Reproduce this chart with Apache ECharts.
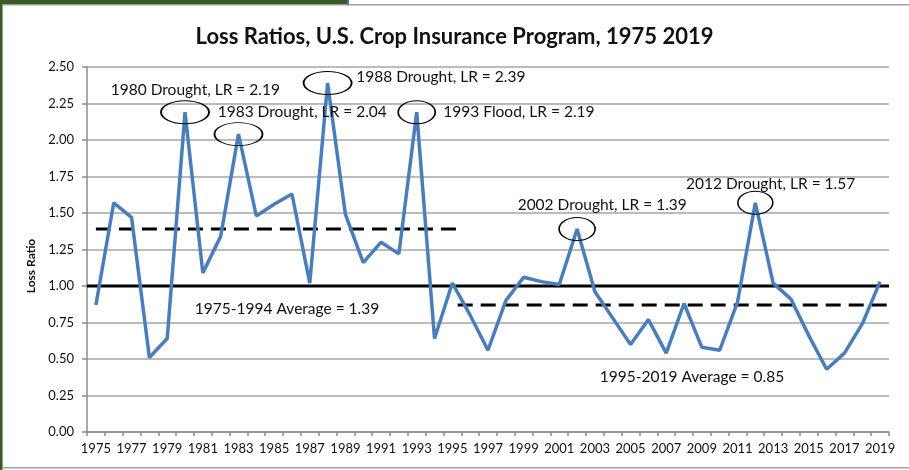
<!DOCTYPE html>
<html>
<head>
<meta charset="utf-8">
<script src="https://cdn.jsdelivr.net/npm/echarts@6/dist/echarts.min.js"></script>
<style>
html,body{margin:0;padding:0;background:#fff;}
#c{width:909px;height:470px;}
</style>
</head>
<body>
<div id="c"></div>
<script>
// ---- data ----
const years = [];
for (let y = 1975; y <= 2019; y++) years.push(String(y));
const lossRatio = [
  0.87, 1.57, 1.47, 0.51, 0.64, 2.19, 1.09, 1.34, 2.04, 1.48,
  1.56, 1.63, 1.02, 2.39, 1.49, 1.16, 1.30, 1.22, 2.19, 0.64,
  1.02, 0.80, 0.56, 0.90, 1.06, 1.03, 1.01, 1.39, 0.96, 0.78,
  0.60, 0.77, 0.54, 0.88, 0.58, 0.56, 0.89, 1.57, 1.02, 0.91,
  0.66, 0.43, 0.54, 0.74, 1.03
];
const yTicks = [0, 0.25, 0.5, 0.75, 1.0, 1.25, 1.5, 1.75, 2.0, 2.25, 2.5];
const breakEven = 1.00;
const avg1975to1994 = 1.39;
const avg1995to2019 = 0.87;
const avgEarlySpan = [1975, 1995.57];
const avgLateSpan = [1995.3, 2019.5];
const fullSpan = [1974.5, 2019.5];
// peak annotations: year, value, ellipse width
const peaks = [
  ['1980', 2.19, 48], ['1983', 2.04, 48], ['1988', 2.39, 48],
  ['1993', 2.19, 37], ['2002', 1.39, 36], ['2012', 1.57, 35]
];
// text annotations: anchor year, anchor value, text
const notes = [
  ['1976', 2.34, '1980 Drought, LR = 2.19', -3],
  ['1982', 2.19, '1983 Drought, LR = 2.04', -3],
  ['1990', 2.43, '1988 Drought, LR = 2.39', -7],
  ['1995', 2.19, '1993 Flood, LR = 2.19', -9],
  ['1999', 1.555, '2002 Drought, LR = 1.39', -6],
  ['2008', 1.70, '2012 Drought, LR = 1.57', 2],
  ['1981', 0.84, '1975-1994 Average = 1.39', -8],
  ['2004', 0.377, '1995-2019 Average = 0.85', -13]
];

const FONT = 'Lato';
const ellipsePath = 'path://M0,10 A10,10 0 1,1 20,10 A10,10 0 1,1 0,10 Z';

const markData = [];
peaks.forEach(p => markData.push({
  coord: [p[0], p[1]], symbol: ellipsePath, symbolSize: [p[2], 23],
  itemStyle: {color: 'rgba(0,0,0,0)', borderColor: '#000', borderWidth: 1.3},
  label: {show: false}
}));
notes.forEach(n => markData.push({
  coord: [n[0], n[1]], symbol: 'circle', symbolSize: 0,
  itemStyle: {color: 'rgba(0,0,0,0)'},
  label: {show: true, formatter: n[2], position: 'right', distance: 0, offset: [n[3], 0],
    color: '#111', fontSize: 15.5, fontFamily: FONT}
}));

const chart = echarts.init(document.getElementById('c'), null, {renderer: 'canvas'});
chart.setOption({
  animation: false,
  backgroundColor: '#fff',
  title: {
    text: 'Loss Ratios, U.S. Crop Insurance Program, 1975 2019',
    left: 'center', top: 21,
    textStyle: {fontFamily: FONT, fontWeight: 'bold', fontSize: 22, color: '#111'}
  },
  grid: {left: 87, right: 20, top: 67, bottom: 38},
  xAxis: [{
    type: 'category', data: years, boundaryGap: true,
    axisLine: {lineStyle: {color: '#8c8c8c', width: 1.5}},
    axisTick: {show: true, interval: 0, length: 4, lineStyle: {color: '#8c8c8c', width: 1.5}},
    axisLabel: {interval: 1, margin: 10, color: '#111', fontSize: 13, fontFamily: FONT},
    splitLine: {show: false}
  }, {
    type: 'value', min: fullSpan[0], max: fullSpan[1], show: false
  }],
  yAxis: {
    type: 'value', min: 0, max: 2.5, interval: 0.25,
    axisLine: {show: true, lineStyle: {color: '#8c8c8c', width: 1.5}},
    axisTick: {show: true, length: 5, lineStyle: {color: '#8c8c8c', width: 1.5}},
    axisLabel: {margin: 13, color: '#111', fontSize: 13, fontFamily: FONT,
      formatter: v => v.toFixed(2)},
    splitLine: {show: true, lineStyle: {color: '#a6a6a6', width: 1.5}}
  },
  graphic: [
    {type: 'rect', left: 0, top: 0, shape: {width: 347, height: 4}, style: {fill: '#3a5a24'}, z: 100},
    {type: 'rect', left: 347, top: 0, shape: {width: 2, height: 5}, style: {fill: '#4a72b0'}, z: 102},
    {type: 'rect', left: 0, top: 0, shape: {width: 2, height: 470}, style: {fill: '#3a5a24'}, z: 100},
    {type: 'rect', left: 2, top: 4, shape: {width: 907, height: 1.5}, style: {fill: '#a0a0a0'}, z: 100},
    {type: 'rect', left: 2, top: 4, shape: {width: 1.2, height: 466}, style: {fill: '#a0a0a0'}, z: 100},
    {type: 'rect', left: 2, top: 467, shape: {width: 907, height: 1.5}, style: {fill: '#a0a0a0'}, z: 100},
    {type: 'text', rotation: Math.PI / 2, x: 31, y: 266,
      style: {text: 'Loss Ratio', font: 'bold 12px ' + FONT, fill: '#111',
        align: 'center', verticalAlign: 'middle'}, z: 100}
  ],
  series: [
    {
      type: 'line', xAxisIndex: 1, data: [[fullSpan[0], breakEven], [fullSpan[1], breakEven]],
      symbol: 'none', lineStyle: {color: '#000', width: 3}, z: 3, silent: true
    },
    {
      type: 'line', xAxisIndex: 1, data: [[avgEarlySpan[0], avg1975to1994], [avgEarlySpan[1], avg1975to1994]],
      symbol: 'none', lineStyle: {color: '#000', width: 3, type: [15, 8]}, z: 3, silent: true
    },
    {
      type: 'line', xAxisIndex: 1, data: [[avgLateSpan[0], avg1995to2019], [avgLateSpan[1], avg1995to2019]],
      symbol: 'none', lineStyle: {color: '#000', width: 3, type: [15, 8]}, z: 3, silent: true
    },
    {
      type: 'line', data: lossRatio, symbol: 'none',
      lineStyle: {color: '#4a7ebb', width: 3.5}, z: 4,
      markPoint: {data: markData, silent: true, z: 5}
    }
  ]
});
</script>
</body>
</html>
